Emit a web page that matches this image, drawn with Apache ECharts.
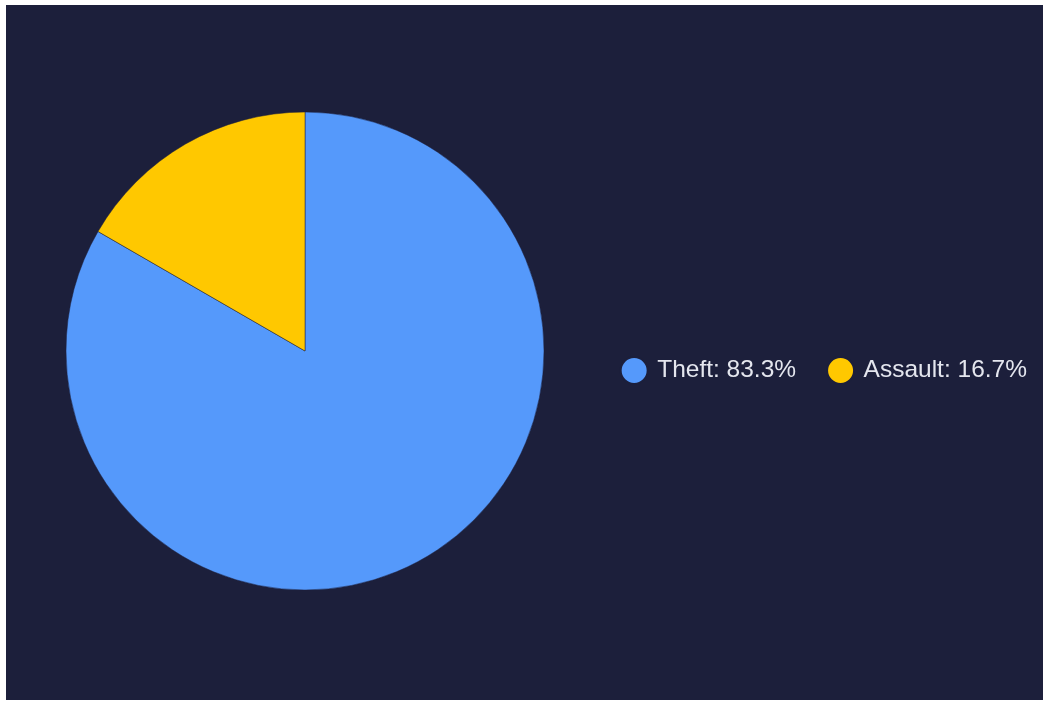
<!DOCTYPE html>
<html>
<head>
<meta charset="utf-8">
<script src="https://cdn.jsdelivr.net/npm/echarts@6/dist/echarts.min.js"></script>
<style>
  html, body { margin: 0; padding: 0; background: #ffffff; width: 1049px; height: 702px; overflow: hidden; }
  #chart { position: absolute; left: 6px; top: 5px; width: 1037px; height: 695px; background: #1c1f3b; }
</style>
</head>
<body>
<div id="chart"></div>
<script>
  // Incident categories and their counts
  const categories = ['Theft', 'Assault'];
  const counts = [5, 1];
  const colors = ['#5599fb', '#ffc800'];

  const total = counts.reduce((a, b) => a + b, 0);
  const pieData = categories.map((name, i) => ({ name, value: counts[i], itemStyle: { color: colors[i] } }));

  const chart = echarts.init(document.getElementById('chart'), null, { renderer: 'canvas' });
  chart.setOption({
    backgroundColor: '#1c1f3b',
    animation: false,
    legend: {
      orient: 'horizontal',
      right: 16,
      top: 351,
      padding: 0,
      itemGap: 30,
      icon: 'circle',
      itemWidth: 36,
      itemHeight: 27,
      textStyle: { color: '#e4e6ee', fontSize: 24.5, fontFamily: 'Arial, "Liberation Sans", sans-serif' },
      formatter: function (name) {
        const i = categories.indexOf(name);
        return name + ': ' + (counts[i] / total * 100).toFixed(1) + '%';
      },
      data: categories
    },
    series: [{
      type: 'pie',
      center: [299, 346],
      radius: 239,
      startAngle: 90,
      clockwise: true,
      label: { show: false },
      labelLine: { show: false },
      itemStyle: { borderColor: '#1c1f3b', borderWidth: 0.5 },
      data: pieData
    }]
  });
</script>
</body>
</html>
